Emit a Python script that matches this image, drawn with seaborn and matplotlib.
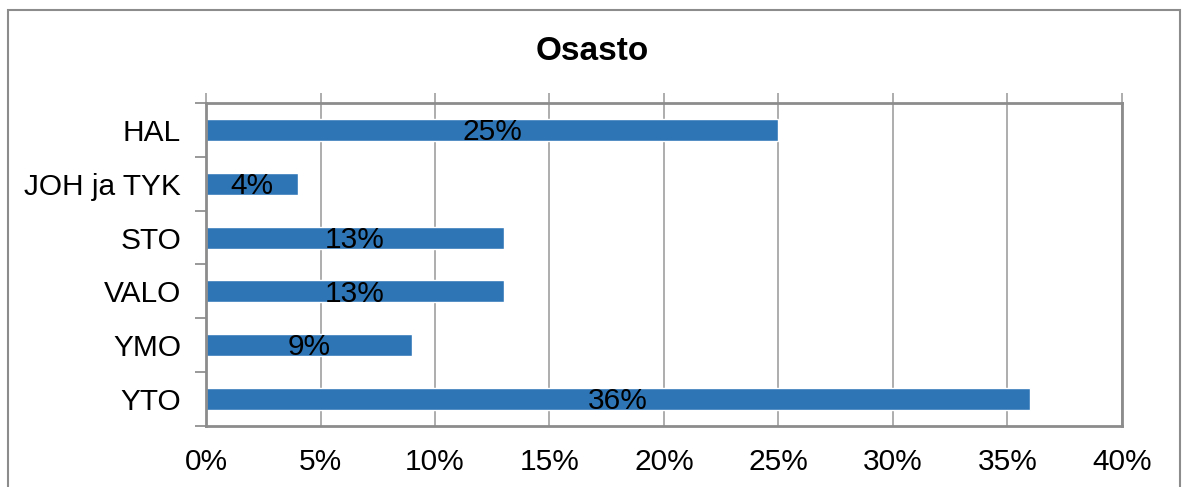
import pandas as pd
import matplotlib.pyplot as plt
import matplotlib.patches as mpatches
from matplotlib.ticker import FixedLocator, PercentFormatter
import seaborn as sns

# Data
departments = ['HAL', 'JOH ja TYK', 'STO', 'VALO', 'YMO', 'YTO']
shares = [25, 4, 13, 13, 9, 36]
x_ticks = [0, 5, 10, 15, 20, 25, 30, 35, 40]

df = pd.DataFrame({'Osasto': departments, 'Osuus': shares})

sns.set_style('white')
plt.rcParams['font.family'] = ['Liberation Sans', 'DejaVu Sans']
plt.rcParams['text.color'] = 'black'

fig = plt.figure(figsize=(11.84, 4.87), dpi=100)
ax = fig.add_axes([0.174, 0.1253, 0.7736, 0.6632])

sns.barplot(data=df, x='Osuus', y='Osasto', orient='h', color='#2E75B6',
            saturation=1, width=0.41, ax=ax)

# Bar labels centered
for p, v in zip(ax.patches, shares):
    ax.text(p.get_x() + p.get_width() / 2, p.get_y() + p.get_height() / 2 + 0.04,
            f'{v}%', ha='center', va='center', fontsize=21.5, color='black')

ax.set_xlim(0, 40)
ax.set_ylim(len(departments) - 0.5, -0.5)
ax.set_xticks(x_ticks)
ax.xaxis.set_major_formatter(PercentFormatter(decimals=0))
ax.grid(axis='x', color='#A0A0A0', linewidth=1.2)
ax.set_axisbelow(True)
ax.set_xlabel('')
ax.set_ylabel('')

# Ticks: x marks on top, y marks between categories
ax.tick_params(axis='x', top=True, bottom=False, labeltop=False, labelbottom=True,
               direction='out', length=7, width=1.2, color='#A0A0A0',
               labelsize=21.5, labelcolor='black', pad=9)
ax.tick_params(axis='y', which='major', length=0, labelsize=21.5,
               labelcolor='black', pad=18)
ax.yaxis.set_minor_locator(FixedLocator([i - 0.5 for i in range(len(departments) + 1)]))
ax.tick_params(axis='y', which='minor', left=True, direction='out', length=8,
               width=1.2, color='#888888')

for side in ['left', 'bottom', 'top', 'right']:
    ax.spines[side].set_visible(True)
    ax.spines[side].set_color('#8C8C8C')
    ax.spines[side].set_linewidth(2)

# Title centred on the whole chart
fig.text(0.5, 1 - 52 / 487, 'Osasto', fontsize=24, fontweight='bold',
         color='black', ha='center', va='center')

# Outer chart border
border = mpatches.Rectangle((8 / 1184, -0.1), (1180 - 8) / 1184, 1.1 - 10 / 487,
                            transform=fig.transFigure, fill=False,
                            edgecolor='#8C8C8C', linewidth=1.5, clip_on=False)
fig.patches.append(border)

plt.savefig('out.png', dpi=100)
